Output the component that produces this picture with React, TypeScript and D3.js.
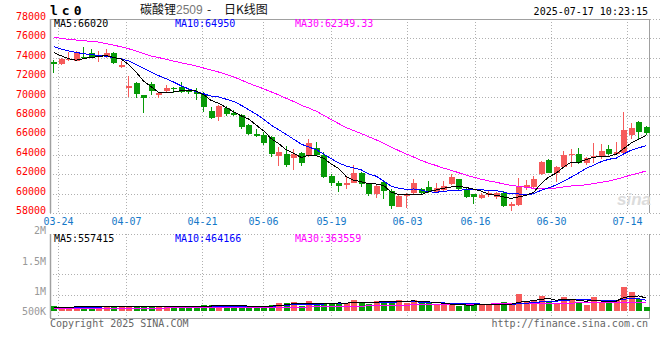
import React from 'react';
import * as d3 from 'd3';

// trading days shown (03-21 .. 07-17)
const dates = [
  '03-21', '03-24', '03-25', '03-26', '03-27', '03-28', '03-31', '04-01', '04-02', '04-03',
  '04-07', '04-08', '04-09', '04-10', '04-11', '04-14', '04-15', '04-16', '04-17', '04-18',
  '04-21', '04-22', '04-23', '04-24', '04-25', '04-28', '04-29', '04-30', '05-06', '05-07',
  '05-08', '05-09', '05-12', '05-13', '05-14', '05-15', '05-16', '05-19', '05-20', '05-21',
  '05-22', '05-23', '05-26', '05-27', '05-28', '05-29', '05-30', '06-03', '06-04', '06-05',
  '06-06', '06-09', '06-10', '06-11', '06-12', '06-13', '06-16', '06-17', '06-18', '06-19',
  '06-20', '06-23', '06-24', '06-25', '06-26', '06-27', '06-30', '07-01', '07-02', '07-03',
  '07-04', '07-07', '07-08', '07-09', '07-10', '07-11', '07-14', '07-15', '07-16', '07-17',
];

const open = [
  73590, 73350, 73730, 73700, 74070, 74450, 74070, 74110, 74450, 73040,
  70840, 71360, 70150, 71250, 70150, 70570, 70910, 71010, 70670, 70430,
  70260, 68500, 67920, 68850, 68360, 68090, 67060, 66130, 66020, 65850,
  63890, 64130, 63690, 64200, 63890, 64650, 64030, 61790, 61070, 60930,
  61120, 62080, 60980, 59920, 61220, 60290, 58640, 59740, 60090, 60500,
  60640, 60190, 60360, 60980, 61460, 60430, 59920, 59500, 59850, 59610,
  60090, 58710, 58820, 60540, 60640, 62010, 63460, 62080, 62770, 63940,
  64080, 63120, 63730, 63800, 64560, 64080, 64150, 66040, 67420, 66900,
];
const high = [
  73760, 73940, 74620, 74690, 75110, 74900, 74730, 74900, 74560, 73660,
  72150, 71530, 70150, 71490, 70500, 71180, 70940, 71460, 70840, 70840,
  70430, 68950, 69120, 69050, 68600, 68160, 67130, 66710, 66300, 65960,
  64820, 64890, 64580, 64300, 65610, 65270, 64240, 62070, 61350, 61720,
  62940, 62260, 61120, 60880, 61400, 60430, 59920, 60020, 61460, 60540,
  61290, 61050, 61290, 62010, 61530, 60640, 59950, 60020, 60290, 60190,
  60290, 59130, 61570, 61400, 61810, 63390, 63530, 62840, 64420, 64560,
  64660, 63800, 65250, 65080, 65010, 65350, 68450, 67310, 67520, 66930,
];
const low = [
  72460, 73250, 73660, 73660, 73870, 73940, 73590, 74010, 73320, 72900,
  69980, 69880, 68330, 70150, 69880, 70430, 70390, 70320, 70220, 69640,
  68430, 67680, 67470, 67950, 67950, 66710, 66020, 65850, 64990, 63790,
  62860, 62760, 62410, 62860, 63790, 63960, 61620, 60800, 60180, 60520,
  61050, 60640, 59740, 59500, 59400, 58370, 58570, 58470, 59950, 59950,
  60090, 60090, 60190, 60880, 60290, 59570, 58920, 59400, 59680, 59400,
  58640, 58230, 58710, 60360, 60540, 61910, 62080, 61190, 62600, 62770,
  63050, 62940, 63180, 63600, 63980, 63980, 64080, 65590, 65520, 66040,
];
const close = [
  73320, 73870, 73830, 74560, 73970, 74040, 74210, 74450, 73420, 73250,
  71120, 70260, 69880, 70570, 70320, 70910, 70740, 70500, 70500, 70260,
  68950, 67810, 69050, 68230, 68090, 66880, 66160, 65960, 65230, 64100,
  64300, 63000, 64060, 63170, 65230, 64030, 61720, 61110, 60800, 61110,
  62150, 60980, 59950, 60780, 60290, 58710, 59740, 59920, 61120, 60020,
  60260, 60600, 60780, 61740, 60430, 59610, 59680, 59850, 60020, 60020,
  58710, 58920, 60640, 60880, 61530, 63290, 62150, 62770, 63980, 64080,
  63120, 63670, 63870, 64420, 64080, 64320, 66560, 66730, 66380, 66210,
];

const ma5 = [
  74550, 74200, 73900, 73750, 73910, 74050, 74120, 74250, 74020, 73870,
  73290, 72500, 71580, 71010, 70430, 70390, 70480, 70610, 70590, 70580,
  70190, 69600, 69310, 68860, 68430, 68010, 67680, 67060, 66460, 65670,
  65150, 64520, 64140, 63730, 63950, 63900, 63640, 63050, 62580, 61750,
  61380, 61230, 61000, 60990, 60830, 60140, 59900, 59890, 59960, 59900,
  60210, 60380, 60560, 60680, 60760, 60630, 60450, 60260, 59920, 59830,
  59660, 59500, 59660, 59830, 60140, 61050, 61700, 62120, 62740, 63250,
  63220, 63520, 63740, 63830, 63830, 64070, 64650, 65220, 65610, 66020,
];
const ma10 = [
  75150, 74900, 74700, 74550, 74420, 74330, 74250, 74150, 74020, 73890,
  73670, 73310, 72910, 72520, 72150, 71840, 71490, 71100, 70800, 70500,
  70290, 70040, 69960, 69730, 69500, 69100, 68640, 68190, 67660, 67050,
  66580, 66100, 65600, 65100, 64810, 64520, 64080, 63600, 63150, 62850,
  62640, 62440, 62030, 61790, 61290, 60760, 60560, 60440, 60480, 60370,
  60180, 60140, 60220, 60320, 60330, 60420, 60420, 60410, 60300, 60300,
  60140, 59980, 59960, 59880, 59990, 60350, 60600, 60890, 61290, 61700,
  62140, 62610, 62930, 63290, 63540, 63650, 64090, 64480, 64720, 64950,
];
const ma30 = [
  76130, 76000, 75900, 75830, 75760, 75690, 75620, 75450, 75300, 75130,
  74930, 74690, 74420, 74180, 74020, 73840, 73660, 73480, 73330, 73140,
  72940, 72730, 72530, 72290, 72040, 71700, 71380, 71080, 70800, 70480,
  70180, 69820, 69490, 69110, 68820, 68490, 68070, 67630, 67210, 66800,
  66500, 66190, 65860, 65540, 65200, 64790, 64430, 64080, 63760, 63420,
  63130, 62890, 62620, 62400, 62150, 61900, 61690, 61480, 61310, 61170,
  60990, 60850, 60740, 60660, 60540, 60510, 60530, 60580, 60690, 60790,
  60820, 60910, 61040, 61160, 61290, 61470, 61700, 61930, 62100, 62350,
];

// volumes in thousands of lots
const volume = [
  215, 186, 186, 186, 186, 186, 186, 186, 186, 186,
  215, 215, 215, 186, 186, 186, 186, 186, 186, 186,
  272, 243, 272, 215, 186, 186, 215, 186, 186, 272,
  344, 344, 387, 215, 430, 287, 358, 330, 330, 358,
  473, 358, 287, 430, 430, 430, 473, 358, 473, 330,
  330, 258, 258, 287, 229, 258, 258, 287, 258, 258,
  387, 258, 731, 430, 430, 659, 430, 358, 616, 473,
  401, 258, 616, 387, 387, 473, 1046, 831, 502, 186,
];
const volMa5 = [
  160, 160, 165, 175, 192, 190, 186, 186, 186, 186,
  192, 198, 204, 204, 203, 198, 192, 186, 186, 186,
  203, 214, 232, 238, 238, 220, 213, 198, 194, 209,
  241, 266, 323, 312, 344, 333, 335, 324, 347, 333,
  370, 370, 361, 381, 396, 387, 412, 424, 433, 413,
  393, 366, 330, 293, 272, 258, 258, 264, 258, 264,
  290, 290, 376, 413, 447, 502, 536, 465, 499, 507,
  450, 421, 473, 427, 410, 424, 582, 625, 648, 557,
];
const volMa10 = [
  150, 152, 155, 158, 162, 166, 170, 175, 180, 186,
  189, 192, 195, 195, 195, 195, 195, 195, 195, 195,
  203, 206, 212, 212, 212, 209, 203, 192, 190, 198,
  222, 240, 278, 275, 291, 277, 300, 317, 328, 339,
  355, 352, 348, 352, 372, 377, 391, 392, 406, 373,
  382, 368, 346, 337, 334, 323, 312, 297, 276, 268,
  274, 274, 320, 335, 356, 396, 413, 420, 456, 476,
  476, 478, 469, 446, 453, 463, 502, 545, 529, 464,
];
const volMa30 = [
  115, 116, 116, 117, 118, 119, 120, 121, 122, 123,
  124, 125, 126, 127, 128, 129, 130, 131, 132, 134,
  136, 138, 140, 142, 144, 146, 148, 150, 152, 155,
  158, 161, 165, 168, 172, 176, 180, 186, 192, 198,
  205, 212, 218, 224, 232, 240, 247, 254, 262, 268,
  274, 278, 282, 285, 288, 291, 294, 297, 300, 302,
  305, 306, 312, 315, 319, 326, 330, 333, 338, 343,
  345, 344, 348, 350, 352, 354, 359, 363, 364, 364,
];

const priceTicks = [78000, 76000, 74000, 72000, 70000, 68000, 66000, 64000, 62000, 60000, 58000];
const dateTicks = ['03-24', '04-07', '04-21', '05-06', '05-19', '06-03', '06-16', '06-30', '07-14'];
const volTicks = [2000, 1500, 1000, 500];
const volTickLabels = ['2M', '1.5M', '1M', '500K'];

const RED = '#f65b5b';
const GREEN = '#079a07';
const GRID = '#b0b0b0';
const AXIS = '#a0a0a0';
const MONO = '"DejaVu Sans Mono", "Liberation Mono", monospace';

const L = 50;
const R = 650;
const PT = 19;
const PB = 213;
const VT = 234;
const VB = 318;
const VBASE = 311;
const volGridY = [274.5, 295.5];

export default function App() {
  const xBand = d3.scaleBand<string>().domain(dates).range([L, R]);
  const xGrid = d3.scalePoint<string>().domain(dates).range([L, R]);
  const cx = (i: number) => (xBand(dates[i]) as number) + xBand.bandwidth() / 2;
  const bodyW = 6;

  const y = d3.scaleLinear().domain([58000, 78000]).range([PB, PT]);
  const vy = d3.scaleLinear().domain([0, 1000]).range([VBASE, VBASE - 1000 / 43]);
  const vAxis = d3.scaleLinear().domain([1000, 2000]).range([295, VT]);

  const priceLine = (arr: number[]) =>
    d3.line<number>().x((_, i) => cx(i)).y((d) => y(d))(arr) as string;
  const volLine = (arr: number[]) =>
    d3.line<number>().x((_, i) => cx(i)).y((d) => vy(d))(arr) as string;

  return (
    <svg
      width={660}
      height={360}
      style={{ position: 'absolute', left: 0, top: 0, background: '#fff' }}
      fontFamily={MONO}
    >
      <defs>
        <clipPath id="pc">
          <rect x={L} y={PT} width={R - L} height={PB - PT} />
        </clipPath>
        <clipPath id="vc">
          <rect x={L} y={VT} width={R - L} height={VB - VT} />
        </clipPath>
      </defs>

      {/* header */}
      <text x={50} y={15} fontSize={13} fontWeight="bold" letterSpacing={4} fill="#000">lc0</text>
      <text x={140} y={14} fontSize={12} fontFamily='"Noto Sans CJK SC", sans-serif' fill="#111">
        碳酸锂<tspan fill="#777" fontFamily='"Liberation Sans", sans-serif'>2509</tspan>
        <tspan x={207}>-</tspan>
        <tspan x={224}>日K线图</tspan>
      </text>
      <text x={648} y={15} fontSize={10} textAnchor="end" fill="#000">2025-07-17 10:23:15</text>

      {/* price grid */}
      {priceTicks.map((t) => (
        <g key={t}>
          <line x1={L} x2={660} y1={Math.round(y(t)) + 0.5} y2={Math.round(y(t)) + 0.5}
            stroke={GRID} strokeDasharray="1,2" />
          <text x={46} y={y(t) + 1} fontSize={10} textAnchor="end" fill="#f00">{t}</text>
        </g>
      ))}
      {dateTicks.map((d) => {
        const gx = Math.round(xGrid(d) as number) + 0.5;
        return (
          <g key={d}>
            <line x1={gx} x2={gx} y1={PT} y2={PB} stroke={GRID} strokeDasharray="1,2" />
            <line x1={gx} x2={gx} y1={VT} y2={VB} stroke={GRID} strokeDasharray="1,2" />
            <text x={gx} y={225} fontSize={10} textAnchor="middle" fill="#1478c8">{d}</text>
          </g>
        );
      })}
      <line x1={L + 0.5} x2={L + 0.5} y1={PT} y2={PB} stroke={AXIS} strokeWidth={1.5} />
      <line x1={R - 0.5} x2={R - 0.5} y1={PT} y2={PB} stroke={AXIS} />
      <line x1={L} x2={R} y1={PT + 0.5} y2={PT + 0.5} stroke={AXIS} />

      {/* candles */}
      <g clipPath="url(#pc)" shapeRendering="crispEdges">
        {dates.map((d, i) => {
          const up = close[i] >= open[i];
          const c = up ? RED : GREEN;
          const x0 = cx(i);
          const top = y(Math.max(open[i], close[i]));
          const bot = y(Math.min(open[i], close[i]));
          return (
            <g key={d}>
              <line x1={Math.floor(x0) + 0.5} x2={Math.floor(x0) + 0.5} y1={y(high[i])} y2={y(low[i])} stroke={c} />
              <rect x={Math.floor(x0) - bodyW / 2 + 0.5} y={top} width={bodyW} height={Math.max(1, bot - top)} fill={c} />
            </g>
          );
        })}
      </g>
      <g clipPath="url(#pc)" fill="none" strokeWidth={1} shapeRendering="crispEdges">
        <path d={priceLine(ma30)} stroke="#ff00ff" />
        <path d={priceLine(ma10)} stroke="#0000ff" />
        <path d={priceLine(ma5)} stroke="#000" />
      </g>
      <text y={27} fontSize={10}>
        <tspan x={54} fill="#000">MA5:66020</tspan>
        <tspan x={175} fill="#0000ff">MA10:64950</tspan>
        <tspan x={295} fill="#ff00ff">MA30:62349.33</tspan>
      </text>
      <text x={617} y={205} fontSize={17} fontWeight="bold" fontStyle="italic"
        fontFamily='"Liberation Sans", sans-serif' fill="#dcdcdc">sina</text>

      {/* volume panel */}
      <line x1={L} x2={660} y1={VT + 0.5} y2={VT + 0.5} stroke={GRID} strokeDasharray="1,2" />
      {volGridY.map((gy) => (
        <line key={gy} x1={L} x2={660} y1={gy} y2={gy} stroke={GRID} strokeDasharray="1,2" />
      ))}
      {volTicks.map((t, k) => (
        <text key={t} x={46} y={Math.min(vAxis(t), 314.5)} fontSize={10} textAnchor="end" fill="#999">
          {volTickLabels[k]}
        </text>
      ))}
      <line x1={L + 0.5} x2={L + 0.5} y1={VT} y2={VB} stroke={AXIS} strokeWidth={1.5} />
      <line x1={R - 0.5} x2={R - 0.5} y1={VT} y2={VB} stroke={AXIS} />
      <line x1={L} x2={R} y1={VB + 0.5} y2={VB + 0.5} stroke={AXIS} />
      <g clipPath="url(#vc)" shapeRendering="crispEdges">
        {dates.map((d, i) => {
          const c = close[i] >= open[i] ? RED : GREEN;
          const x0 = Math.floor(cx(i)) - bodyW / 2 + 0.5;
          return <rect key={d} x={x0} y={vy(volume[i])} width={bodyW} height={vy(0) - vy(volume[i])} fill={c} />;
        })}
      </g>
      <g clipPath="url(#vc)" fill="none" strokeWidth={1} shapeRendering="crispEdges">
        <path d={volLine(volMa30)} stroke="#ff00ff" />
        <path d={volLine(volMa10)} stroke="#0000ff" />
        <path d={volLine(volMa5)} stroke="#000" />
      </g>
      <text y={242} fontSize={10}>
        <tspan x={54} fill="#000">MA5:557415</tspan>
        <tspan x={175} fill="#0000ff">MA10:464166</tspan>
        <tspan x={295} fill="#ff00ff">MA30:363559</tspan>
      </text>

      {/* footer */}
      <text x={50} y={327} fontSize={10} fill="#666">Copyright 2025 SINA.COM</text>
      <text x={648} y={327} fontSize={10} textAnchor="end" fill="#666">http://finance.sina.com.cn</text>
    </svg>
  );
}
